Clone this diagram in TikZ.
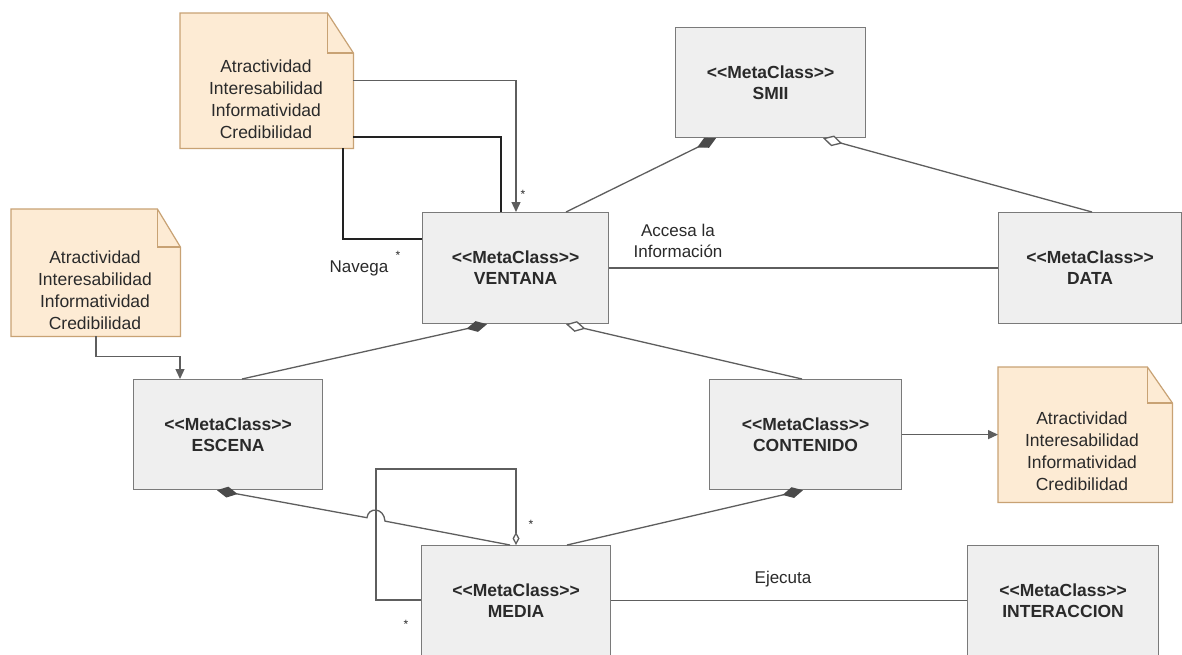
\documentclass[tikz,border=0pt]{standalone}
\usepackage{fontspec}
\setmainfont{Liberation Sans}[Ligatures=TeXOff]
\usetikzlibrary{arrows.meta}
\definecolor{boxfill}{HTML}{EFEFEF}
\definecolor{boxline}{HTML}{7A7A7A}
\definecolor{notefill}{HTML}{FDEBD4}
\definecolor{noteline}{HTML}{C8A274}
\definecolor{lnk}{HTML}{5E5E5E}
\definecolor{dark}{HTML}{222222}
\definecolor{txt}{HTML}{2A2A2A}
\definecolor{compc}{HTML}{4A4A4A}
\begin{document}
\begin{tikzpicture}[x=1pt,y=-1pt,
  cls/.style={draw=boxline, fill=boxfill, line width=1.2pt, anchor=north west, align=center,
    font=\fontsize{17.5}{21}\selectfont\bfseries, text=txt, inner sep=0pt},
  notebox/.style={anchor=north west, inner sep=0pt},
  noteshape/.style={draw=noteline, fill=notefill, line width=1.2pt, line join=miter},
  notefold/.style={draw=noteline, line width=1.2pt},
  notetext/.style={align=center, font=\fontsize{17.5}{22}\selectfont, text=txt, inner sep=0pt},
  lbl/.style={align=center, font=\fontsize{17}{21}\selectfont, text=txt, inner sep=0pt},
  star/.style={font=\fontsize{12}{12}\selectfont, text=txt, inner sep=0pt},
  link/.style={draw=lnk, line width=1.3pt},
  blk/.style={draw=dark, line width=1.4pt},
  compo/.style={-{Diamond[length=21pt,width=11pt,fill=compc,color=compc]}},
  aggr/.style={-{Diamond[length=20pt,width=11pt,fill=white,color=lnk]}},
  aggrs/.style={-{Diamond[length=13pt,width=7pt,fill=white,color=lnk]}},
  tri/.style={-{Triangle[length=10pt,width=9pt,fill=lnk,color=lnk]}},
]
\fill[white] (0,0) rectangle (1182,654);
\useasboundingbox (0,0) rectangle (1182,654);
\clip (0,0) rectangle (1182,654);

% classes
\node[cls, minimum width=190pt, minimum height=110pt] (smii) at (675,27) {<<MetaClass>>\\SMII};
\node[cls, minimum width=186pt, minimum height=111pt] (ventana) at (422,212) {<<MetaClass>>\\VENTANA};
\node[cls, minimum width=183pt, minimum height=111pt] (data) at (998,212) {<<MetaClass>>\\DATA};
\node[cls, minimum width=189pt, minimum height=110pt] (escena) at (133,379) {<<MetaClass>>\\ESCENA};
\node[cls, minimum width=192pt, minimum height=110pt] (contenido) at (709,379) {<<MetaClass>>\\CONTENIDO};
\node[cls, minimum width=189pt, minimum height=110pt] (media) at (421,545) {<<MetaClass>>\\MEDIA};
\node[cls, minimum width=191pt, minimum height=110pt] (interaccion) at (967,545) {<<MetaClass>>\\INTERACCION};

% notes
\node[notebox, minimum width=173pt, minimum height=135pt] (n1) at (180,13) {};
\draw[noteshape] (n1.north west) -- ([xshift=-26pt]n1.north east) -- ([yshift=-40pt]n1.north east)
  -- (n1.south east) -- (n1.south west) -- cycle;
\draw[notefold] ([xshift=-26pt]n1.north east) -- ([xshift=-26pt,yshift=-40pt]n1.north east) -- ([yshift=-40pt]n1.north east);
\node[notetext] (t1) at (266,99) {Atractividad\\Interesabilidad\\Informatividad\\Credibilidad};

\node[notebox, minimum width=169pt, minimum height=127pt] (n2) at (11,209) {};
\draw[noteshape] (n2.north west) -- ([xshift=-23pt]n2.north east) -- ([yshift=-38pt]n2.north east)
  -- (n2.south east) -- (n2.south west) -- cycle;
\draw[notefold] ([xshift=-23pt]n2.north east) -- ([xshift=-23pt,yshift=-38pt]n2.north east) -- ([yshift=-38pt]n2.north east);
\node[notetext] (t2) at (95,290) {Atractividad\\Interesabilidad\\Informatividad\\Credibilidad};

\node[notebox, minimum width=174pt, minimum height=135pt] (n3) at (998,367) {};
\draw[noteshape] (n3.north west) -- ([xshift=-25pt]n3.north east) -- ([yshift=-36pt]n3.north east)
  -- (n3.south east) -- (n3.south west) -- cycle;
\draw[notefold] ([xshift=-25pt]n3.north east) -- ([xshift=-25pt,yshift=-36pt]n3.north east) -- ([yshift=-36pt]n3.north east);
\node[notetext] (t3) at (1082,451) {Atractividad\\Interesabilidad\\Informatividad\\Credibilidad};

% note connectors
\draw[link, tri] (n1.east) -| (ventana.north -| 516,0);
\draw[blk] (n1.east |- 0,137) -| (ventana.north -| 501,0);
\draw[blk] (n1.south -| 343,0) |- (ventana.west |- 0,239);
\draw[link, tri] (n2.south -| 96,0) -- ++(0,20) -| (escena.north -| 180,0);
\draw[link, tri] (contenido.east) -- (n3.west |- contenido.east);

% associations
\draw[link, compo] (ventana.north -| 566,0) -- (smii.south -| 716,0);
\draw[link, aggr] (data.north -| 1092,0) -- (smii.south -| 823,0);
\draw[link] (ventana.east) -- (data.west |- ventana.east);
\draw[link, compo] (escena.north -| 242,0) -- (ventana.south -| 487,0);
\draw[link, aggr] (contenido.north -| 802,0) -- (ventana.south -| 566,0);
\draw[link, compo] (media.north -| 567,0) -- (contenido.south -| 803,0);
\draw[link, aggrs] (media.west |- 0,600) -| (376,469) -| (media.north -| 516,0);
\draw[link, compo] (media.north -| 510,0) -- (385,521.1) .. controls (384,507) and (368,507) .. (367,517.7) -- (escena.south -| 217,0);
\draw[link] (media.east) -- (interaccion.west |- media.east);

% labels
\node[lbl] (acc) at (678,241) {Accesa la\\Información};
\node[lbl] (nav) at (359,268) {Navega};
\node[lbl] (eje) at (783,579) {Ejecuta};
\node[star] (s1) at (523,194) {*};
\node[star] (s2) at (398,255) {*};
\node[star] (s3) at (531,524) {*};
\node[star] (s4) at (406,624) {*};
\end{tikzpicture}
\end{document}
